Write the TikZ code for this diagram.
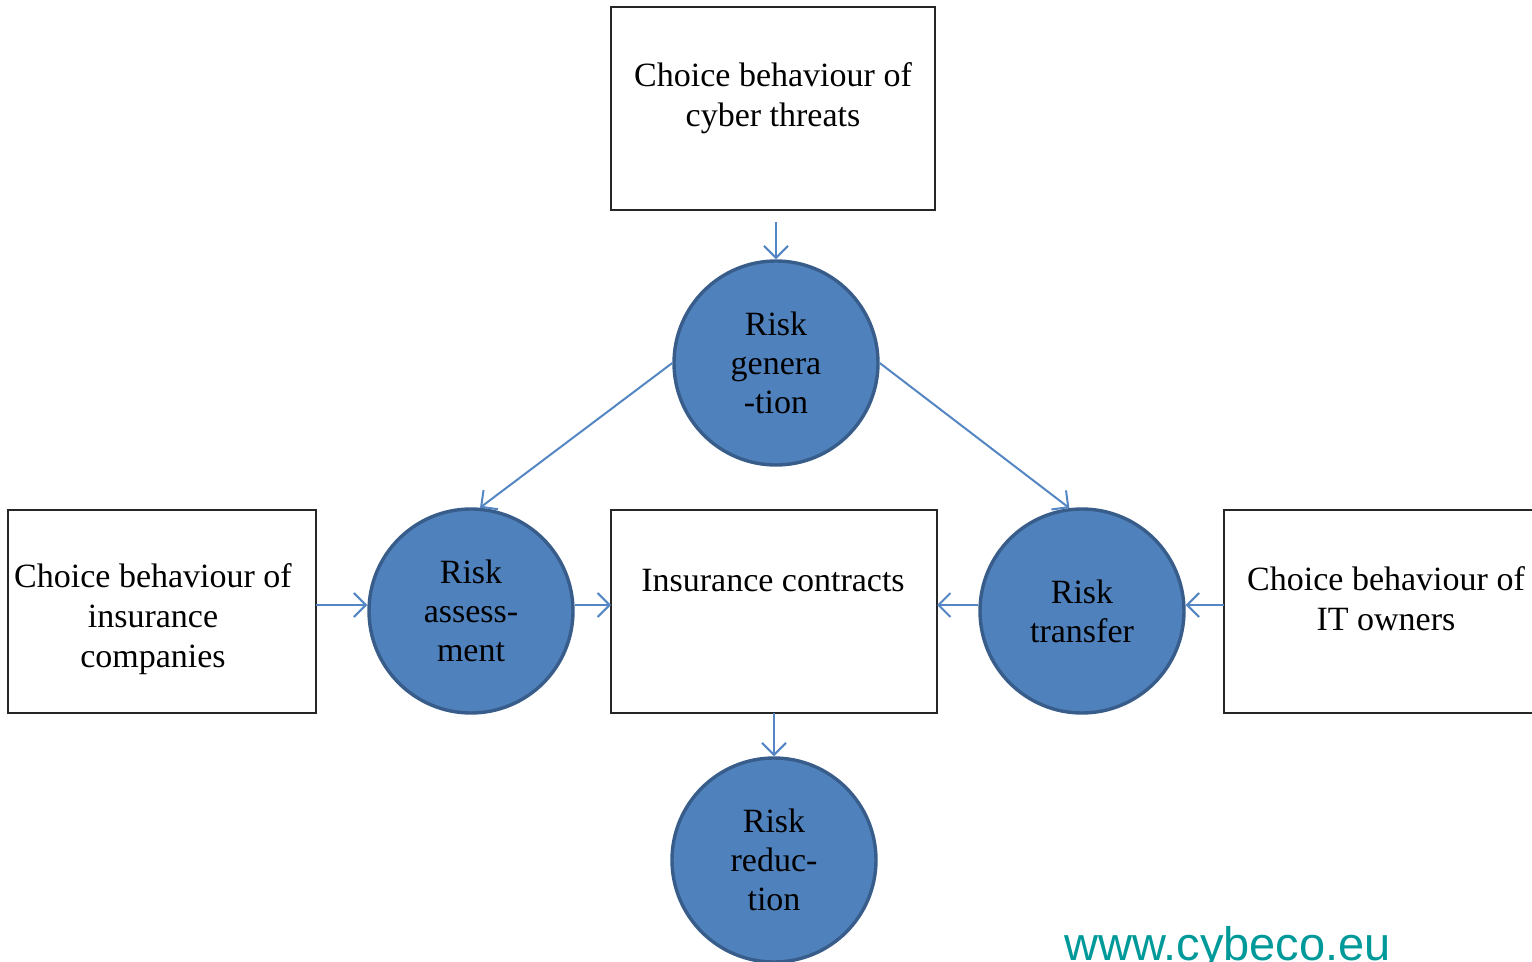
\documentclass[tikz,border=0pt]{standalone}
\usepackage{fontspec}
\setmainfont{Liberation Serif}
\newfontfamily\urlfont{Liberation Sans}
\usetikzlibrary{arrows.meta}
\definecolor{riskfill}{RGB}{79,129,189}
\definecolor{riskedge}{RGB}{56,93,138}
\definecolor{flow}{RGB}{84,134,196}
\definecolor{weblink}{RGB}{0,153,153}
\tikzset{
  riskcircle/.style={circle, draw=riskedge, fill=riskfill, line width=1.7pt,
    minimum size=102pt, inner sep=0pt, align=center,
    font=\fontsize{17}{19.5}\selectfont},
  actorbox/.style={draw=black!85, line width=1pt, rectangle},
  boxtext/.style={align=center, font=\fontsize{17}{20}\selectfont, inner sep=0pt},
  flowarrow/.style={draw=flow, line width=1pt,
    -{Straight Barb[length=6pt,width=12pt,line width=1pt]}}
}
\begin{document}
\begin{tikzpicture}[x=0.5pt,y=-0.5pt]
  \useasboundingbox (0,0) rectangle (1532,962);
  \clip (0,0) rectangle (1532,962);

  % boxes for the actors and the contracts
  \draw[actorbox] (611,7) rectangle (935,210);
  \node[boxtext] (cyber) at (773,98) {Choice behaviour of\\cyber threats};
  \coordinate (cyberbottom) at (776,210);

  \draw[actorbox] (8,510) rectangle (316,713);
  \node[boxtext] (insurers) at (153,619) {Choice behaviour of\\insurance\\companies};
  \coordinate (insurersright) at (316,605);

  \draw[actorbox] (611,510) rectangle (937,713);
  \node[boxtext] (contracts) at (773,581) {Insurance contracts};
  \coordinate (contractsleft) at (611,605);
  \coordinate (contractsright) at (937,605);
  \coordinate (contractsbottom) at (774,713);

  \draw[actorbox] (1224,510) rectangle (1560,713);
  \node[boxtext] (owners) at (1386,599) {Choice behaviour of\\IT owners};
  \coordinate (ownersleft) at (1224,605);

  % risk stages
  \node[riskcircle] (gen) at (776,363) {Risk\\genera\\-tion};
  \node[riskcircle] (assess) at (471,611) {Risk\\assess-\\ment};
  \node[riskcircle] (transfer) at (1082,611) {Risk\\transfer};
  \node[riskcircle] (reduce) at (774,860) {Risk\\reduc-\\tion};

  % flows
  \draw[flowarrow, shorten <=6pt] (cyberbottom) -- (gen.north);
  \draw[flowarrow] (gen.west) -- (assess.85);
  \draw[flowarrow] (gen.east) -- (transfer.97);
  \draw[flowarrow] (insurersright) -- (assess.west |- insurersright);
  \draw[flowarrow] (assess.east |- contractsleft) -- (contractsleft);
  \draw[flowarrow] (transfer.west |- contractsright) -- (contractsright);
  \draw[flowarrow] (ownersleft) -- (transfer.east |- ownersleft);
  \draw[flowarrow] (contractsbottom) -- (reduce.north);

  % footer link
  \node[anchor=base west, inner sep=0pt, text=weblink,
    font=\urlfont\fontsize{23.5}{26}\selectfont] (web) at (1064,960) {www.cybeco.eu};
\end{tikzpicture}
\end{document}
